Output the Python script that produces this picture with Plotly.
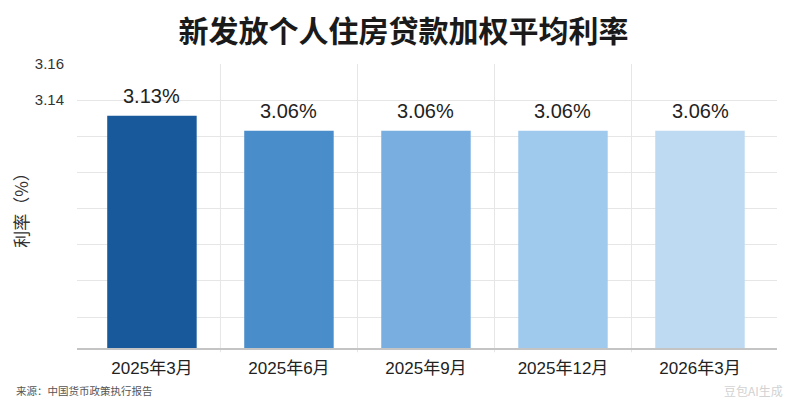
import plotly.graph_objects as go


# values as printed in the reference chart
periods = ['2025年3月', '2025年6月', '2025年9月', '2025年12月', '2026年3月']
rates = [3.13, 3.06, 3.06, 3.06, 3.06]
bar_colors = ['#18599c', '#4a8dcb', '#79afe0', '#9fcaee', '#bddaf2']

# the source picture only labels the two top gridlines
y_tick_labels = ['3.16', '3.14', '', '', '', '', '', '']

title_text = '新发放个人住房贷款加权平均利率'
y_title = '利率（%）'
source_text = '来源：中国货币政策执行报告'
watermark_text = '豆包AI生成'

LATIN_CJK = 'Liberation Sans, Noto Sans CJK SC, sans-serif'

# axis geometry (the reference axis is not zero-based)
y_min, y_max = 2.05, 3.37
grid_step = 0.168
grid_vals = [y_max - i * grid_step for i in range(len(y_tick_labels))]

# page body has an 8px margin, so the figure is a bit smaller than the window
FIG_W, FIG_H = 791, 396


def bar_trace():
    return go.Bar(
        x=periods,
        y=rates,
        marker=dict(color=bar_colors, line=dict(width=0)),
        hoverinfo='skip',
        showlegend=False,
    )


def value_labels():
    return [
        dict(
            x=p, y=v, xref='x', yref='y',
            text=f'{v:.2f}%',
            showarrow=False,
            yanchor='bottom',
            yshift=7,
            font=dict(size=20, color='#222222', family=LATIN_CJK),
        )
        for p, v in zip(periods, rates)
    ]


def separators():
    # thin vertical lines between the categories
    return [
        dict(
            type='line', xref='x', yref='paper',
            x0=i + 0.5, x1=i + 0.5, y0=-0.015, y1=1,
            line=dict(color='#e6e6e6', width=1),
            layer='below',
        )
        for i in range(len(periods) - 1)
    ]


fig = go.Figure(data=[bar_trace()])
fig.update_layout(
    width=FIG_W,
    height=FIG_H,
    margin=dict(l=69, r=22, t=56, b=56),
    paper_bgcolor='white',
    plot_bgcolor='white',
    bargap=0.347,
    font=dict(family=LATIN_CJK, color='#333333'),
    title=dict(
        text=title_text,
        x=0.5,
        xanchor='center',
        y=0.94,
        yanchor='middle',
        font=dict(size=30, color='#1a1a1a', family='Noto Sans CJK SC', weight='bold'),
    ),
    xaxis=dict(
        type='category',
        showgrid=False,
        showline=True,
        linecolor='#c4c4c4',
        linewidth=1.5,
        ticks='',
        ticklabelstandoff=4,
        tickfont=dict(size=17, color='#222222', family=LATIN_CJK),
        range=[-0.547, 4.562],
        automargin=False,
    ),
    yaxis=dict(
        range=[y_min, y_max],
        tickmode='array',
        tickvals=grid_vals,
        ticktext=y_tick_labels,
        showgrid=True,
        gridcolor='#e6e6e6',
        gridwidth=1,
        zeroline=False,
        showline=False,
        ticks='',
        ticklabelstandoff=12,
        tickfont=dict(size=15, color='#333333', family=LATIN_CJK),
        automargin=False,
        title=dict(
            text=y_title,
            standoff=8,
            font=dict(size=17, color='#333333', family='Noto Sans CJK SC'),
        ),
    ),
    shapes=separators(),
    annotations=value_labels() + [
        dict(
            text=source_text,
            xref='paper', yref='paper',
            x=-0.09, y=-0.151,
            xanchor='left', yanchor='middle',
            showarrow=False,
            font=dict(size=10.5, color='#555555', family='Noto Sans CJK SC'),
        ),
        dict(
            text=watermark_text,
            xref='paper', yref='paper',
            x=1.011, y=-0.151,
            xanchor='right', yanchor='middle',
            showarrow=False,
            font=dict(size=12, color='#d2d2d2', family='Noto Sans CJK SC'),
        ),
    ],
)

fig.write_html('out.html')
print('Wrote out.html')
